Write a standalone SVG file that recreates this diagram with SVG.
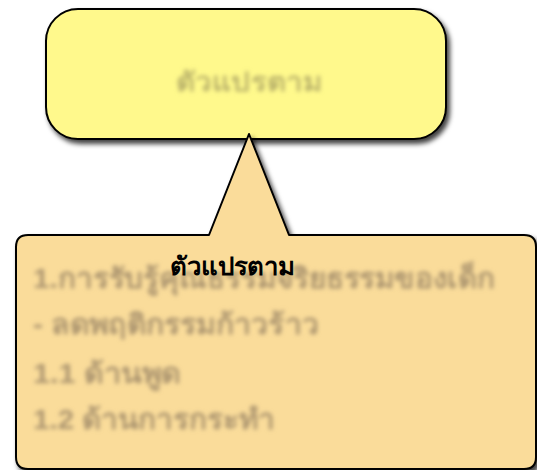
<svg xmlns="http://www.w3.org/2000/svg" width="537" height="470" viewBox="0 0 537 470">
<defs>
<filter id="shadow" x="-10%" y="-10%" width="130%" height="130%">
<feDropShadow dx="3" dy="4" stdDeviation="2.5" flood-color="#000" flood-opacity="0.75"/>
</filter>
<filter id="blur" x="-5%" y="-30%" width="110%" height="160%">
<feGaussianBlur stdDeviation="2.2"/>
</filter>
<style>
.shape{stroke:#000;stroke-width:2;stroke-linejoin:round}
.fuzzy{font-family:"Liberation Sans","Noto Sans",sans-serif;font-weight:bold;filter:url(#blur)}
.label{font-family:"Liberation Sans","Noto Sans",sans-serif;font-weight:bold;font-size:25px;fill:#000}
</style>
</defs>
<rect width="537" height="470" fill="#ffffff"/>
<g id="node-top">
<rect class="shape" x="46" y="9" width="400" height="130" rx="32" ry="32" fill="#fff98c" filter="url(#shadow)"/>
<text class="fuzzy" x="176" y="91" font-size="26" fill="#bdb66c" textLength="146" lengthAdjust="spacingAndGlyphs">ตัวแปรตาม</text>
</g>
<g id="connectors"></g>
<g id="node-callout">
<path class="shape" d="M28 235 L209 235 L249 134 L289 235 L524 235 Q536 235 536 247 L536 457 Q536 469 524 469 L28 469 Q16 469 16 457 L16 247 Q16 235 28 235 Z" fill="#fadc9a" filter="url(#shadow)"/>
<g class="fuzzy" fill="#ad9670" font-size="28">
<text x="33" y="288" textLength="462" lengthAdjust="spacingAndGlyphs">1.การรับรู้คุณธรรมจริยธรรมของเด็ก</text>
<text x="33" y="334" textLength="286" lengthAdjust="spacingAndGlyphs">- ลดพฤติกรรมก้าวร้าว</text>
<text x="33" y="383" textLength="148" lengthAdjust="spacingAndGlyphs">1.1 ด้านพูด</text>
<text x="33" y="429" textLength="242" lengthAdjust="spacingAndGlyphs">1.2 ด้านการกระทำ</text>
</g>
<text class="label" x="170" y="275" textLength="125" lengthAdjust="spacingAndGlyphs">ตัวแปรตาม</text>
</g>
</svg>
